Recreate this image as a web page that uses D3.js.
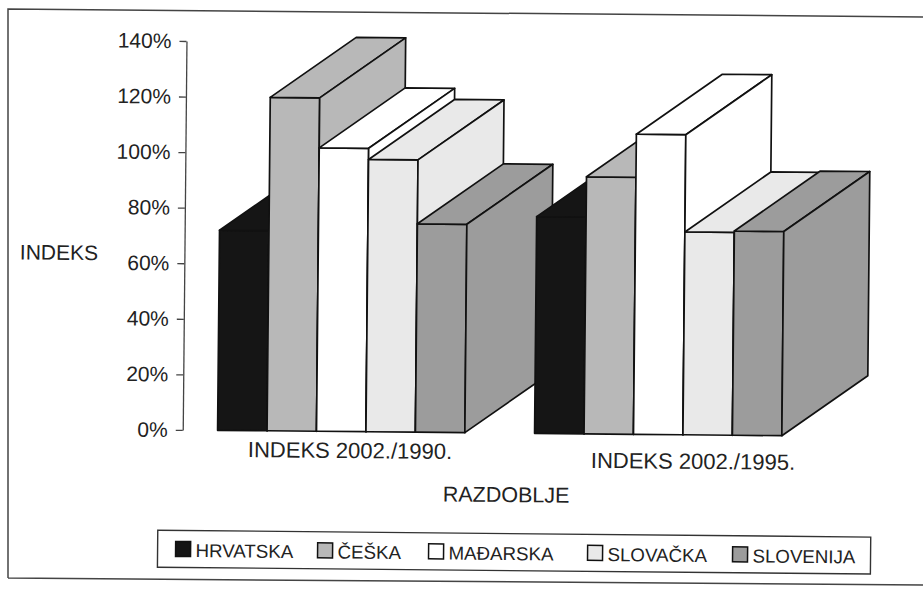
<!DOCTYPE html>
<html>
<head>
<meta charset="utf-8">
<script src="https://cdn.jsdelivr.net/npm/d3@7"></script>
<style>
  html, body { margin: 0; padding: 0; background: #fff; }
  svg { display: block; }
  text { font-family: "Liberation Sans", Arial, sans-serif; fill: #222; }
</style>
</head>
<body>
<svg id="chart" width="923" height="591"></svg>
<script>
// ---- data ----
const categories = ["INDEKS 2002./1990.", "INDEKS 2002./1995."];
const seriesNames = ["HRVATSKA", "ČEŠKA", "MAĐARSKA", "SLOVAČKA", "SLOVENIJA"];
const hrvatska  = [0.72, 0.78];
const ceska     = [1.20, 0.925];
const madjarska = [1.02, 1.08];
const slovacka  = [0.98, 0.73];
const slovenija = [0.75, 0.735];
const yTicks = [0, 0.2, 0.4, 0.6, 0.8, 1.0, 1.2, 1.4];
const seriesColors = ["#151515", "#b8b8b8", "#ffffff", "#e9e9e9", "#9c9c9c"];

const seriesValues = [hrvatska, ceska, madjarska, slovacka, slovenija];

const svg = d3.select("#chart");
svg.append("rect").attr("width", 923).attr("height", 591).attr("fill", "#fff");

// outer frame (scanned border)
svg.append("path")
  .attr("d", "M8,578 L8,9 L923,17 M8,578 L923,585")
  .attr("fill", "none").attr("stroke", "#444").attr("stroke-width", 1.5);

// the scanned page is slightly tilted
const main = svg.append("g").attr("transform", "rotate(0.55,500,300)");

const x0 = d3.scaleBand().domain(categories).range([184, 818]).paddingInner(0.22).paddingOuter(0.11);
const x1 = d3.scaleBand().domain(seriesNames).range([0, x0.bandwidth()]).padding(0);
const y = d3.scaleLinear().domain([0, 1.4]).range([433, 44]);

const depthX = 85.4, depthY = -60.8;

// y axis
const yAxis = d3.axisLeft(y).tickValues(yTicks).tickFormat(d3.format(".0%")).tickSize(7).tickSizeOuter(0).tickPadding(8);
const gy = main.append("g").attr("transform", "translate(184,0)").call(yAxis);
gy.select(".domain").attr("stroke", "#444").attr("stroke-width", 1.3);
gy.selectAll(".tick line").attr("stroke", "#444").attr("stroke-width", 1.3);
gy.selectAll(".tick text").attr("font-size", 21).attr("fill", "#222")
  .style("font-family", '"Liberation Sans", Arial, sans-serif');

// bars (painter's order: left to right)
const gBars = main.append("g");
categories.forEach((cat, ci) => {
  seriesNames.forEach((s, si) => {
    const v = seriesValues[si][ci];
    const xl = x0(cat) + x1(s);
    const xr = xl + x1.bandwidth();
    const yb = y(0), yt = y(v);
    const col = seriesColors[si];
    const g = gBars.append("g");
    g.append("path")
      .attr("d", `M${xl},${yb} L${xl},${yt} L${xr},${yt} L${xr},${yb} Z`)
      .attr("fill", col);
    g.append("path")
      .attr("d", `M${xl},${yt} L${xl + depthX},${yt + depthY} L${xr + depthX},${yt + depthY} L${xr},${yt} Z`)
      .attr("fill", col);
    g.append("path")
      .attr("d", `M${xr},${yb} L${xr},${yt} L${xr + depthX},${yt + depthY} L${xr + depthX},${yb + depthY} Z`)
      .attr("fill", col);
    g.selectAll("path").attr("stroke", "#111").attr("stroke-width", 1.7).attr("stroke-linejoin", "round");
  });
});

// category labels
const labelShiftX = [9, 35];
const labelShiftY = [26.5, 34];
main.append("g").selectAll("text").data(categories).join("text")
  .attr("x", (d, i) => x0(d) + x0.bandwidth() / 2 + labelShiftX[i])
  .attr("y", (d, i) => y(0) + labelShiftY[i])
  .attr("text-anchor", "middle").attr("font-size", 22)
  .text(d => d);

// axis titles
main.append("text").attr("x", 19.5).attr("y", 264).attr("font-size", 21).text("INDEKS");
main.append("text").attr("x", 508).attr("y", 502).attr("text-anchor", "middle").attr("font-size", 21.5).text("RAZDOBLJE");

// legend
const lg = main.append("g");
lg.append("rect").attr("x", 160).attr("y", 533.5).attr("width", 713).attr("height", 37)
  .attr("fill", "#fff").attr("stroke", "#333").attr("stroke-width", 1.4);
const legendX = [178, 320, 431, 590, 735];
seriesNames.forEach((s, i) => {
  lg.append("rect").attr("x", legendX[i]).attr("y", 544.5).attr("width", 15).attr("height", 15)
    .attr("fill", seriesColors[i]).attr("stroke", "#111").attr("stroke-width", 1.5);
  lg.append("text").attr("x", legendX[i] + 20).attr("y", 560).attr("font-size", 18.7).text(s);
});
</script>
</body>
</html>
